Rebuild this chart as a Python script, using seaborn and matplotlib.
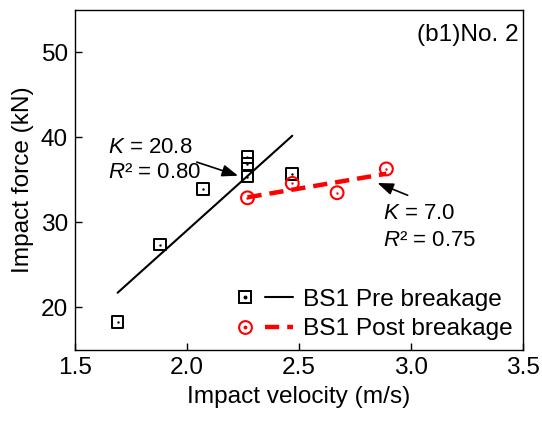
import matplotlib
matplotlib.use("Agg")
import matplotlib.pyplot as plt
import seaborn as sns
from matplotlib.lines import Line2D
from matplotlib.legend_handler import HandlerTuple

# Data
pre_velocity = [1.69, 1.88, 2.07, 2.27, 2.27, 2.27, 2.47]
pre_force = [18.3, 27.4, 33.9, 37.7, 36.9, 35.4, 35.7]
post_velocity = [2.27, 2.47, 2.67, 2.89]
post_force = [32.9, 34.6, 33.5, 36.3]
x_ticks = [1.5, 2.0, 2.5, 3.0, 3.5]
x_tick_labels = ["1.5", "2.0", "2.5", "3.0", "3.5"]
y_ticks = [20, 30, 40, 50]
y_tick_labels = ["20", "30", "40", "50"]
series_labels = ["BS1 Pre breakage", "BS1 Post breakage"]
pre_fit_text = ["$K$ = 20.8", "$R$\u00b2 = 0.80"]
post_fit_text = ["$K$ = 7.0", "$R$\u00b2 = 0.75"]

sns.set_theme(style="white")
plt.rcParams["font.family"] = ["Liberation Sans", "DejaVu Sans"]
plt.rcParams["mathtext.fontset"] = "custom"
plt.rcParams["mathtext.it"] = "Liberation Sans:italic"
plt.rcParams["mathtext.rm"] = "Liberation Sans"
plt.rcParams["text.color"] = "black"
plt.rcParams["axes.labelcolor"] = "black"

FS = 17.6

fig = plt.figure(figsize=(5.42, 4.23), dpi=100)
ax = fig.add_axes([0.1384, 0.1726, 0.8266, 0.8038])

# fitted lines
sns.regplot(x=pre_velocity, y=pre_force, ax=ax, scatter=False, ci=None,
            color="black", line_kws=dict(lw=1.5))
sns.regplot(x=post_velocity, y=post_force, ax=ax, scatter=False, ci=None,
            color="red", line_kws=dict(lw=3.2, ls=(0, (3.2, 1.8))))

# markers
sns.scatterplot(x=pre_velocity, y=pre_force, ax=ax, marker="s", s=72,
                facecolors="none", edgecolors="black", linewidth=1.4, zorder=3)
sns.scatterplot(x=pre_velocity, y=pre_force, ax=ax, marker="o", s=3,
                color="black", linewidth=0, zorder=4)
sns.scatterplot(x=post_velocity, y=post_force, ax=ax, marker="o", s=85,
                facecolors="none", edgecolors="red", linewidth=1.5, zorder=3)
sns.scatterplot(x=post_velocity, y=post_force, ax=ax, marker="o", s=3,
                color="red", linewidth=0, zorder=4)

ax.set_xlim(1.5, 3.5)
ax.set_ylim(15, 55)
ax.set_xticks(x_ticks)
ax.set_xticklabels(x_tick_labels)
ax.set_yticks(y_ticks)
ax.set_yticklabels(y_tick_labels)
ax.tick_params(direction="in", length=5, width=1, labelsize=FS, colors="black",
               bottom=True, left=True, top=False, right=False, pad=5)
for sp in ax.spines.values():
    sp.set_color("black")
    sp.set_linewidth(1.0)

ax.set_xlabel("Impact velocity (m/s)", fontsize=FS, color="black", labelpad=5)
ax.set_ylabel("Impact force (kN)", fontsize=FS, color="black", labelpad=5)

ax.text(0.99, 0.96, "(b1)No. 2", transform=ax.transAxes, ha="right", va="top",
        fontsize=FS, color="black")

# annotations
arrow_style = dict(arrowstyle="-|>,head_length=0.8,head_width=0.3",
                   color="black", lw=1.2, mutation_scale=12, shrinkA=0, shrinkB=0)
ax.text(1.647, 38.8, pre_fit_text[0], fontsize=16, va="center", ha="left")
ax.text(1.647, 35.9, pre_fit_text[1], fontsize=16, va="center", ha="left")
ax.annotate("", xy=(2.228, 35.5), xytext=(2.044, 37.1), arrowprops=arrow_style)
ax.text(2.875, 31.1, post_fit_text[0], fontsize=16, va="center", ha="left")
ax.text(2.875, 27.9, post_fit_text[1], fontsize=16, va="center", ha="left")
ax.annotate("", xy=(2.85, 34.65), xytext=(2.985, 33.2), arrowprops=arrow_style)

# legend
sq = Line2D([], [], marker="s", ls="none", mfc="none", mec="black", ms=8.5, mew=1.4)
sqd = Line2D([], [], marker="o", ls="none", color="black", ms=1.8)
ci = Line2D([], [], marker="o", ls="none", mfc="none", mec="red", ms=9.2, mew=1.5)
cid = Line2D([], [], marker="o", ls="none", color="red", ms=1.8)
ln1 = Line2D([], [], color="black", lw=1.5)
ln2 = Line2D([], [], color="red", lw=3.2, ls=(0, (3.2, 1.8)))
h1 = ((sq, sqd), ln1)
h2 = ((ci, cid), ln2)
ax.legend([h1, h2], series_labels, loc="lower right",
          bbox_to_anchor=(1.01, -0.015), frameon=False, fontsize=FS,
          handlelength=2.55, handletextpad=0.4, labelspacing=0.3,
          borderaxespad=0.2,
          handler_map={h1: HandlerTuple(ndivide=None, pad=0.25),
                       h2: HandlerTuple(ndivide=None, pad=0.25)})

fig.savefig("out.png", dpi=100)
